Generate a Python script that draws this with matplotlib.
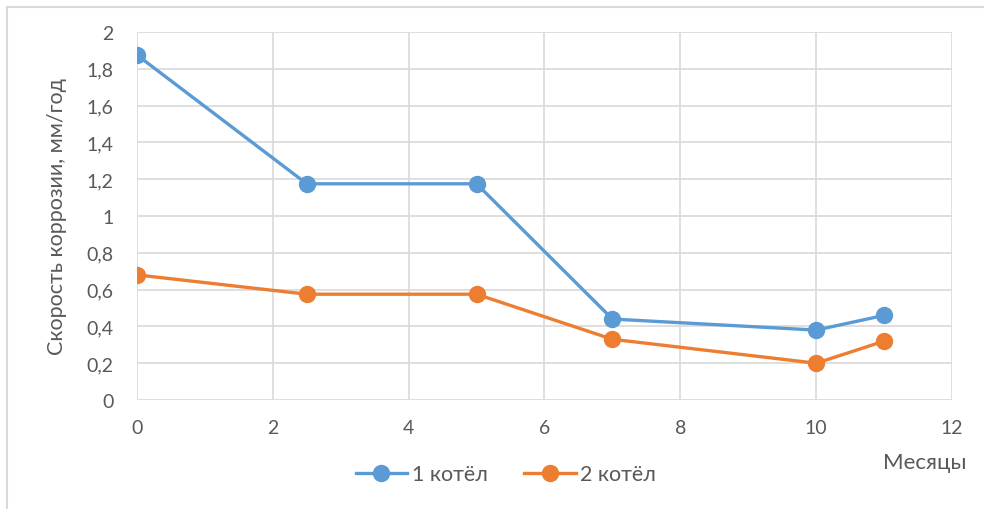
import matplotlib.pyplot as plt
from matplotlib.lines import Line2D
from matplotlib.ticker import FuncFormatter

months = [0, 2.5, 5, 7, 10, 11]
boiler1 = [1.875, 1.175, 1.175, 0.44, 0.38, 0.46]
boiler2 = [0.68, 0.575, 0.575, 0.33, 0.20, 0.32]
labels = ["1 котёл", "2 котёл"]

blue = "#5B9BD5"
orange = "#ED7D31"
text_gray = "#595959"
grid_gray = "#D9D9D9"

plt.rcParams['font.family'] = ['Lato', 'DejaVu Sans']

fig = plt.figure(figsize=(9.84, 5.10), dpi=100)
ax = fig.add_axes([0.1392, 0.2137, 0.8283, 0.7216])

ax.plot(months, boiler1, color=blue, lw=2.4, marker='o', ms=11.5, label=labels[0], zorder=3)
ax.plot(months, boiler2, color=orange, lw=2.4, marker='o', ms=11.5, label=labels[1], zorder=3)

ax.set_xlim(0, 12)
ax.set_ylim(0, 2)
ax.set_xticks(range(0, 13, 2))
ax.set_yticks([i * 0.2 for i in range(11)])
ax.yaxis.set_major_formatter(FuncFormatter(lambda v, p: f"{v:.1f}".rstrip('0').rstrip('.').replace('.', ',')))
ax.grid(True, color=grid_gray, lw=1.2)
ax.set_axisbelow(True)
for s in ax.spines.values():
    s.set_visible(False)
ax.tick_params(length=0, labelsize=14, colors=text_gray)
ax.tick_params(axis='y', pad=17)
ax.tick_params(axis='x', pad=14)

ax.set_ylabel("Скорость коррозии, мм/год", fontsize=15.5, color=text_gray, labelpad=14)
fig.text(0.982, 0.092, "Месяцы", fontsize=16, color=text_gray, ha='right', va='center')

handles = [Line2D([], [], color=blue, lw=2.4, marker='o', ms=11.5),
           Line2D([], [], color=orange, lw=2.4, marker='o', ms=11.5)]
fig.legend(handles, labels, loc='center', bbox_to_anchor=(0.514, 0.068), ncol=2, frameon=False,
           fontsize=15.5, labelcolor=text_gray, handlelength=2.4, handletextpad=0.2, columnspacing=1.7)

# outer chart frame
fig.add_artist(Line2D([0.0071, 0.0071], [0, 0.984], color=grid_gray, lw=1.5))
fig.add_artist(Line2D([0.0071, 1], [0.984, 0.984], color=grid_gray, lw=1.5))

fig.savefig("out.png", dpi=100)
